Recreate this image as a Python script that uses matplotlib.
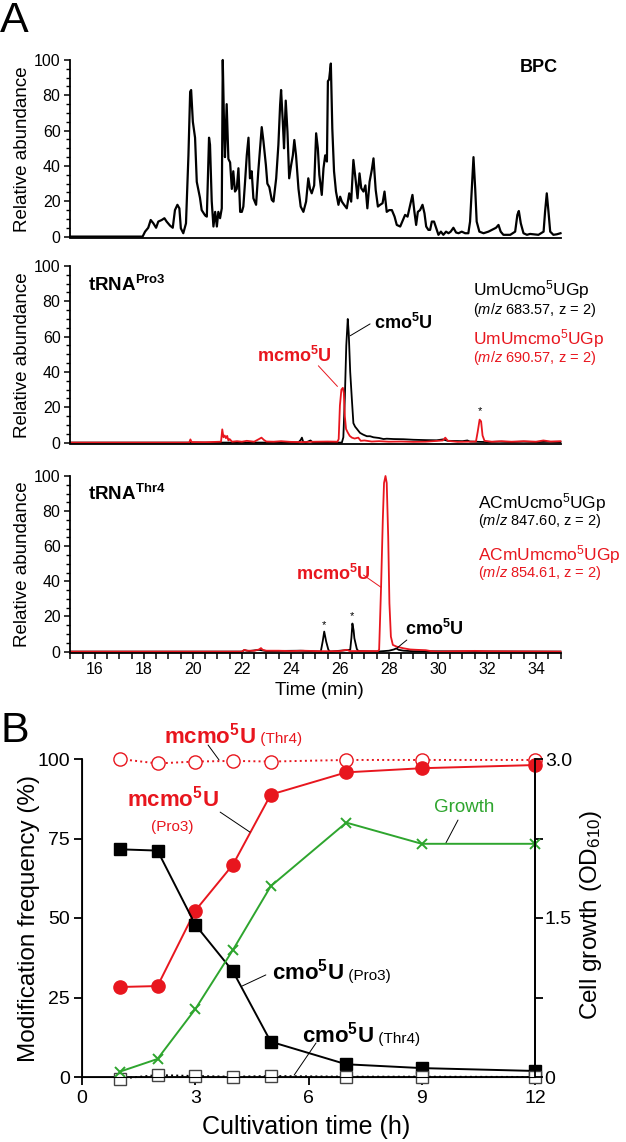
import matplotlib
matplotlib.use('Agg')
import matplotlib.pyplot as plt
from matplotlib.ticker import MultipleLocator

plt.rcParams['font.family'] = 'Liberation Sans'
plt.rcParams['mathtext.fontset'] = 'custom'
plt.rcParams['mathtext.rm'] = 'Liberation Sans'
plt.rcParams['mathtext.it'] = 'Liberation Sans:italic'
plt.rcParams['mathtext.bf'] = 'Liberation Sans:bold'
plt.rcParams['mathtext.default'] = 'regular'

RED = '#e8161e'
GREEN = '#2ea52e'

# ---------------- Panel A data (retention time in min, relative abundance) ----------------
bpc_time = [15.0, 17.95, 18.05, 18.18, 18.28, 18.39, 18.50, 18.59, 18.73, 18.84, 18.93, 19.07,
            19.18, 19.27, 19.37, 19.45, 19.51, 19.61, 19.72, 19.82, 19.89, 19.93, 20.00, 20.09,
            20.16, 20.29, 20.36, 20.50, 20.57, 20.66, 20.70, 20.77, 20.84, 20.91, 20.98, 21.04,
            21.11, 21.18, 21.22, 21.27, 21.31, 21.38, 21.45, 21.52, 21.59, 21.65, 21.72, 21.79,
            21.86, 21.93, 22.00, 22.06, 22.13, 22.20, 22.27, 22.33, 22.40, 22.47, 22.58, 22.67,
            22.81, 22.88, 22.98, 23.04, 23.12, 23.22, 23.29, 23.40, 23.49, 23.56, 23.60, 23.67,
            23.72, 23.79, 23.86, 23.93, 24.01, 24.08, 24.14, 24.21, 24.31, 24.40, 24.51, 24.62,
            24.71, 24.78, 24.85, 24.95, 25.03, 25.10, 25.16, 25.26, 25.33, 25.40, 25.47, 25.51,
            25.56, 25.63, 25.69, 25.76, 25.84, 25.94, 26.01, 26.08, 26.17, 26.28, 26.38, 26.46,
            26.55, 26.65, 26.72, 26.80, 26.87, 26.96, 27.04, 27.12, 27.21, 27.30, 27.37, 27.46,
            27.55, 27.64, 27.74, 27.82, 27.91, 28.01, 28.12, 28.23, 28.32, 28.46, 28.57, 28.66,
            28.76, 28.87, 28.96, 29.04, 29.11, 29.18, 29.27, 29.37, 29.45, 29.52, 29.61, 29.68,
            29.75, 29.84, 29.93, 30.02, 30.12, 30.22, 30.33, 30.43, 30.52, 30.63, 30.74, 30.84,
            30.97, 31.11, 31.24, 31.31, 31.38, 31.45, 31.52, 31.58, 31.69, 31.86, 32.06, 32.27,
            32.37, 32.47, 32.56, 32.67, 32.95, 33.15, 33.24, 33.30, 33.38, 33.49, 33.63, 33.76,
            34.10, 34.31, 34.37, 34.44, 34.51, 34.58, 34.71, 34.85, 35.0]
bpc_abund = [0, 0, 2.8, 5, 9.4, 7.5, 5, 8.5, 9.4, 10.4, 8.5, 6.2,
             5, 15, 18, 16, 4.7, 1.9, 7.5, 46, 82, 83, 65, 56,
             31, 22, 15, 12, 11.3, 56, 52, 20, 5.7, 14, 5.7, 14,
             10.4, 16, 100, 65, 45, 75, 44, 42, 27, 37, 25.5, 27,
             38.7, 14, 14, 17, 31, 46, 56, 33, 37, 21.7, 18, 37,
             62, 54, 40.5, 30, 28, 20.8, 19.8, 33, 52, 74.5, 83, 65,
             50, 77, 59.4, 33, 40.5, 46, 54.7, 46, 27, 17, 14, 19.8,
             33, 27, 24.5, 29, 58.5, 50, 35, 23.6, 38.7, 46, 42.5, 88,
             89, 98, 61, 37, 25.5, 18, 22.6, 19.8, 18, 16, 24.5, 19.8,
             43.4, 31, 21.7, 35.8, 27.4, 25.5, 29, 16, 31, 37.7, 44.3, 26.4,
             17, 18, 18.9, 25.5, 14, 15, 15, 11.3, 6.6, 5.7, 9.4, 12.3,
             11.3, 18, 23.6, 14, 6.6, 14, 15, 18, 13.2, 5.7, 3.8, 3.8,
             8.5, 8.5, 4.7, 1, 2.8, 1, 2.8, 1.9, 2.8, 5, 2.3, 1.9,
             2.8, 1.9, 1.9, 8.5, 27, 45, 27, 8.5, 2.8, 1.9, 2.8, 4.3,
             5, 6.6, 2.8, 1, 1, 2.8, 12.3, 14.5, 7.5, 1.9, 1, 1.5,
             1, 2.8, 14, 24.5, 14, 2.8, 1, 1.3, 1.9]

# tRNA Pro3: UmUcmo5UGp (black) and UmUmcmo5UGp (red)
pro3_cmo_time = [15.0, 24.30, 24.40, 24.45, 24.50, 24.60, 24.80, 24.90, 26.08, 26.14, 26.20,
                 26.26, 26.32, 26.36, 26.42, 26.49, 26.55, 26.62, 26.69, 26.82, 26.95, 27.10,
                 27.23, 27.37, 27.60, 27.78, 27.91, 28.20, 28.59, 29.00, 29.50, 29.95, 30.20,
                 30.40, 31.00, 31.20, 31.30, 31.70, 32.00, 32.50, 33.00, 33.50, 34.00, 34.50, 35.0]
pro3_cmo_abund = [0, 0, 1.5, 2.8, 0.5, 0, 1.2, 0, 0, 3, 25,
                  55, 70, 62, 40, 24, 11, 9, 7.8, 5.5, 4.5, 3.6,
                  3.6, 3, 2.6, 2, 2.2, 2, 1.9, 1.6, 1.4, 1.3, 1.8,
                  1.0, 0.8, 1.2, 0.6, 0.4, 0.3, 0.5, 0.3, 0.5, 0.3, 0.4, 0.3]
pro3_mcmo_time = [15.0, 19.85, 19.90, 19.95, 20.50, 21.15, 21.20, 21.25, 21.30, 21.35, 21.40,
                  21.45, 21.50, 21.60, 21.80, 22.00, 22.20, 22.50, 22.70, 22.80, 22.90, 23.00,
                  23.30, 23.60, 24.00, 24.50, 25.00, 25.50, 25.90, 25.95, 26.00, 26.06, 26.12,
                  26.16, 26.20, 26.25, 26.32, 26.40, 26.49, 26.60, 26.75, 26.85, 27.00, 27.30,
                  27.60, 28.00, 28.50, 29.00, 29.50, 30.20, 30.30, 30.40, 30.80, 31.20, 31.55,
                  31.62, 31.70, 31.76, 31.82, 31.90, 32.20, 32.60, 33.00, 33.50, 34.00, 34.30,
                  34.60, 35.0]
pro3_mcmo_abund = [0, 0, 1.8, 0.3, 0.2, 0.5, 7.5, 3, 4, 2.5, 3.8,
                   1.2, 2, 0.5, 0.8, 0.5, 1, 0.5, 2, 2.8, 1.5, 0.6,
                   0.5, 0.8, 0.4, 0.3, 0.5, 0.6, 0.5, 2, 21, 30, 31,
                   28, 15, 7.7, 5.7, 3.8, 2.8, 2.3, 2.8, 1, 1.2, 0.6,
                   0.8, 0.5, 0.6, 0.4, 0.5, 1.2, 2.8, 1.0, 0.4, 0.5, 0.6,
                   6, 13, 12, 4, 1, 0.5, 0.8, 0.5, 0.8, 0.5, 1.2,
                   0.6, 0.8]

# tRNA Thr4: ACmUcmo5UGp (black) and ACmUmcmo5UGp (red)
thr4_cmo_time = [15.0, 22.00, 22.10, 22.30, 22.70, 23.00, 24.40, 25.22, 25.30, 25.36, 25.44,
                 25.53, 25.60, 26.42, 26.47, 26.51, 26.56, 26.59, 26.69, 26.75, 27.50, 28.00,
                 28.20, 28.30, 28.40, 28.60, 29.00, 35.0]
thr4_cmo_abund = [0, 0, 0.8, 0.3, 1, 0.3, 0.5, 0, 6, 11.4, 5.7,
                  1, 0, 1, 8, 16, 12, 7.6, 1.5, 0.3, 0, 0.5,
                  1.2, 1.8, 1.0, 0.5, 0.2, 0]
thr4_mcmo_time = [15.0, 22.00, 22.10, 22.20, 22.50, 22.70, 22.78, 22.85, 23.00, 23.50, 24.00,
                  24.50, 25.00, 25.50, 26.00, 26.28, 26.40, 27.00, 27.55, 27.60, 27.68, 27.75,
                  27.80, 27.86, 27.91, 27.97, 28.02, 28.08, 28.16, 28.32, 28.59, 28.87, 29.14,
                  29.50, 29.70, 30.00, 31.50, 32.00, 35.0]
thr4_mcmo_abund = [0, 0, 1, 0.5, 0.5, 1.2, 2, 1, 0.5, 0.5, 0.3,
                   0.5, 0.3, 0.2, 0.3, 1, 0.3, 0.3, 0.3, 1, 37, 75,
                   96, 100, 96, 65.5, 27.5, 8.5, 3.8, 2.8, 1.9, 1.2, 1,
                   0.8, 0.3, 0, 0.4, 0.2, 0]

# ---------------- Panel B data ----------------
time_h = [1, 2, 3, 4, 5, 7, 9, 12]
mcmo_thr4 = [100, 98.6, 99.2, 99.4, 99.2, 99.7, 99.7, 99.7]
mcmo_pro3 = [28.3, 28.6, 52.3, 66.8, 88.8, 95.8, 97.1, 98.1]
cmo_pro3 = [71.6, 71.2, 47.9, 33.2, 11.1, 4.0, 2.8, 1.9]
cmo_thr4 = [-0.5, 0.6, 0.3, 0.1, 0.3, 0.1, 0.1, 0.0]
growth_od = [0.05, 0.17, 0.64, 1.20, 1.80, 2.40, 2.20, 2.20]

fig = plt.figure(figsize=(6.26, 11.42), dpi=100)

W, H = 626, 1142
def box(x0, y0, x1, y1):
    return [x0 / W, 1 - y1 / H, (x1 - x0) / W, (y1 - y0) / H]

axes_a = [fig.add_axes(box(70.3, 60, 560.5, 238)),
          fig.add_axes(box(70.3, 266, 560.5, 444)),
          fig.add_axes(box(70.3, 476, 560.5, 653))]

for i, ax in enumerate(axes_a):
    ax.set_xlim(15, 35)
    ax.set_ylim(-0.8, 100)
    ax.spines['top'].set_visible(False)
    ax.spines['right'].set_visible(False)
    ax.spines['left'].set_bounds(0, 100)
    for s in ('left', 'bottom'):
        ax.spines[s].set_linewidth(1.3)
    ax.yaxis.set_major_locator(MultipleLocator(20))
    ax.yaxis.set_minor_locator(MultipleLocator(5))
    ax.tick_params(axis='y', which='major', length=4.5, width=1.1, labelsize=11.5, pad=2.5)
    ax.tick_params(axis='y', which='minor', length=3, width=1.0)
    ax.set_ylabel('Relative abundance', fontsize=13.5)
    ax.yaxis.set_label_coords(-0.08, 0.5)
    if i < 2:
        ax.tick_params(axis='x', which='both', bottom=False, labelbottom=False)
    else:
        ax.xaxis.set_minor_locator(MultipleLocator(0.5))
        ax.set_xticks([16, 18, 20, 22, 24, 26, 28, 30, 32, 34])
        ax.tick_params(axis='x', which='major', length=4.5, width=1.1, labelsize=11.5, pad=2)
        ax.tick_params(axis='x', which='minor', length=4.5, width=1.1)
        ax.set_xlabel('Time (min)', fontsize=13.5)
        ax.xaxis.set_label_coords(0.509, -0.165)

ax1, ax2, ax3 = axes_a
ax1.plot(bpc_time, bpc_abund, color='black', lw=1.6, clip_on=False)
ax1.text(34.9, 96, 'BPC', fontsize=13, fontweight='bold', ha='right', va='center')

ax2.plot(pro3_cmo_time, pro3_cmo_abund, color='black', lw=1.3, clip_on=False)
ax2.plot(pro3_mcmo_time, pro3_mcmo_abund, color=RED, lw=1.3, clip_on=False)
ax2.text(15.73, 89, r'$\mathbf{tRNA^{Pro3}}$', fontsize=13.5, ha='left', va='center')
ax2.text(31.43, 86.5, r'UmUcmo$^5$UGp', fontsize=12.5, ha='left', va='center')
ax2.text(31.43, 75, r'($\mathit{m/z}$ 683.57, z = 2)', fontsize=10.5, ha='left', va='center')
ax2.text(31.43, 59, r'UmUmcmo$^5$UGp', fontsize=12.5, ha='left', va='center', color=RED)
ax2.text(31.43, 47.8, r'($\mathit{m/z}$ 690.57, z = 2)', fontsize=10.5, ha='left', va='center', color=RED)
ax2.text(27.4, 68, r'$\mathbf{cmo^5U}$', fontsize=13, ha='left', va='center')
ax2.annotate('', xy=(26.42, 60.5), xytext=(27.23, 67.2),
             arrowprops=dict(arrowstyle='-', lw=0.7, color='black', shrinkA=0, shrinkB=0))
ax2.text(24.14, 49.2, r'$\mathbf{mcmo^5U}$', fontsize=13, ha='center', va='center', color=RED)
ax2.annotate('', xy=(25.9, 31.8), xytext=(25.12, 43.5),
             arrowprops=dict(arrowstyle='-', lw=0.7, color=RED, shrinkA=0, shrinkB=0))
ax2.text(31.72, 18, '*', fontsize=8, ha='center', va='center')

ax3.plot(thr4_cmo_time, thr4_cmo_abund, color='black', lw=1.3, clip_on=False)
ax3.plot(thr4_mcmo_time, thr4_mcmo_abund, color=RED, lw=1.3, clip_on=False)
ax3.text(15.73, 90, r'$\mathbf{tRNA^{Thr4}}$', fontsize=13.5, ha='left', va='center')
ax3.text(31.63, 85, r'ACmUcmo$^5$UGp', fontsize=12.5, ha='left', va='center')
ax3.text(31.63, 74.5, r'($\mathit{m/z}$ 847.60, z = 2)', fontsize=10.5, ha='left', va='center')
ax3.text(31.63, 55.5, r'ACmUmcmo$^5$UGp', fontsize=12.5, ha='left', va='center', color=RED)
ax3.text(31.63, 44.8, r'($\mathit{m/z}$ 854.61, z = 2)', fontsize=10.5, ha='left', va='center', color=RED)
ax3.text(25.73, 44.5, r'$\mathbf{mcmo^5U}$', fontsize=13, ha='center', va='center', color=RED)
ax3.annotate('', xy=(27.68, 36.6), xytext=(26.96, 43.6),
             arrowprops=dict(arrowstyle='-', lw=0.7, color=RED, shrinkA=0, shrinkB=0))
ax3.text(28.65, 12.7, r'$\mathbf{cmo^5U}$', fontsize=13, ha='left', va='center')
ax3.annotate('', xy=(28.32, 1.9), xytext=(28.73, 6.6),
             arrowprops=dict(arrowstyle='-', lw=0.7, color='black', shrinkA=0, shrinkB=0))
ax3.text(25.36, 15, '*', fontsize=8, ha='center', va='center')
ax3.text(26.51, 20, '*', fontsize=8, ha='center', va='center')

fig.text(0.0, 1 - 1 / H, 'A', fontsize=31, ha='left', va='top')
fig.text(0.0, 1 - 711 / H, 'B', fontsize=31, ha='left', va='top')

# ---------------- Panel B ----------------
axb = fig.add_axes(box(82, 759, 535, 1077))
axb.set_xlim(0, 12)
axb.set_ylim(0, 100)
axb.spines['top'].set_visible(False)
for s in ('left', 'bottom', 'right'):
    axb.spines[s].set_linewidth(1.3)
axb.set_xticks([0, 3, 6, 9, 12])
axb.set_yticks([0, 25, 50, 75, 100])
axb.tick_params(length=5.5, width=1.3, labelsize=14)
axb.tick_params(axis='x', pad=4)
axb.tick_params(axis='y', pad=3)
axb.set_xlabel('Cultivation time (h)', fontsize=18)
axb.xaxis.set_label_coords(0.494, -0.118)
axb.set_ylabel('Modification frequency (%)', fontsize=17.5)
axb.yaxis.set_label_coords(-0.093, 0.5)

axg = axb.twinx()
axg.set_ylim(0, 3)
axg.spines['top'].set_visible(False)
axg.spines['right'].set_linewidth(1.3)
axg.set_yticks([0, 0.75, 1.5, 2.25, 3.0])
axg.set_yticklabels(['0', '', '1.5', '', '3.0'])
axg.tick_params(length=5.5, width=1.3, labelsize=14, pad=1.5)
axg.set_ylabel('Cell growth (OD$_{610}$)', fontsize=17.5)
axg.yaxis.set_label_coords(1.095, 0.51)

axb.plot(time_h, mcmo_thr4, ':', color=RED, lw=1.4, marker='o', ms=9.5, mfc='white',
         mec=RED, mew=1.0, clip_on=False, zorder=3)
axb.plot(time_h, mcmo_pro3, '-', color=RED, lw=1.4, marker='o', ms=9.5, mfc=RED,
         mec=RED, clip_on=False, zorder=3)
axb.plot(time_h, cmo_pro3, '-', color='black', lw=1.4, marker='s', ms=8, mfc='black',
         mec='black', clip_on=False, zorder=3)
axb.plot(time_h, cmo_thr4, ':', color='black', lw=1.4, marker='s', ms=8, mfc='white',
         mec='#444444', mew=1.0, clip_on=False, zorder=4)
axg.plot(time_h, growth_od, '-', color=GREEN, lw=1.4, marker='x', ms=7, mew=1.4,
         clip_on=False)

line_kw = dict(arrowstyle='-', lw=0.7, color='black', shrinkA=0, shrinkB=0)
t1 = axb.text(2.17, 107.5, r'$\mathbf{mcmo^5U}$', fontsize=16, color=RED, ha='left', va='center')
axb.annotate(' (Thr4)', xy=(1, 0.08), xycoords=t1, fontsize=11, color=RED, ha='left', va='bottom')
axb.annotate('', xy=(3.63, 99.7), xytext=(3.34, 104.4), arrowprops=line_kw)

axb.text(2.41, 87.7, r'$\mathbf{mcmo^5U}$', fontsize=16, color=RED, ha='center', va='center')
axb.text(2.38, 78.6, '(Pro3)', fontsize=11, color=RED, ha='center', va='center')
axb.annotate('', xy=(4.45, 77), xytext=(3.66, 83.3), arrowprops=line_kw)

axb.text(10.13, 84.6, 'Growth', fontsize=13.5, color=GREEN, ha='center', va='center')
axb.annotate('', xy=(9.64, 73.6), xytext=(9.96, 80.8), arrowprops=line_kw)

t2 = axb.text(5.03, 33.1, r'$\mathbf{cmo^5U}$', fontsize=16, ha='left', va='center')
axb.annotate(' (Pro3)', xy=(1, 0.08), xycoords=t2, fontsize=11, ha='left', va='bottom')
axb.annotate('', xy=(4.24, 28.6), xytext=(4.87, 32.1), arrowprops=line_kw)

t3 = axb.text(5.83, 13.2, r'$\mathbf{cmo^5U}$', fontsize=16, ha='left', va='center')
axb.annotate(' (Thr4)', xy=(1, 0.08), xycoords=t3, fontsize=11, ha='left', va='bottom')
axb.annotate('', xy=(5.62, 0.6), xytext=(6.2, 10.7), arrowprops=line_kw)

fig.savefig('out.png', dpi=100)
